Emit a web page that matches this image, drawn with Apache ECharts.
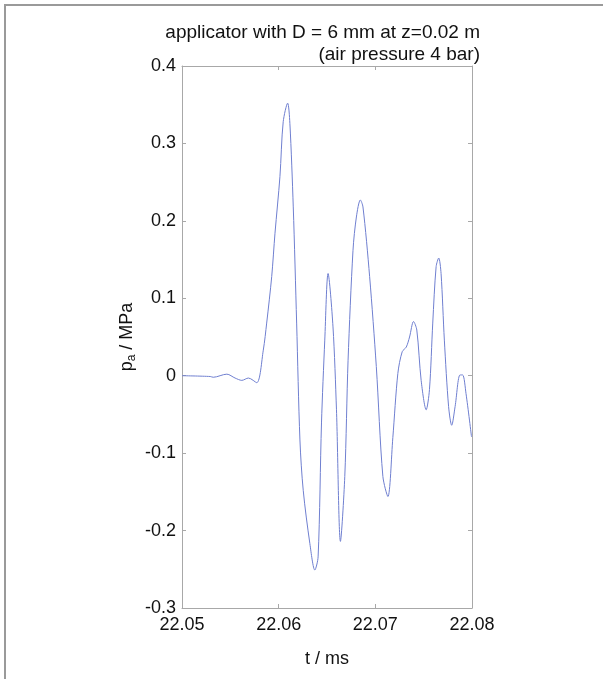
<!DOCTYPE html>
<html lang="en">
<head>
	<meta charset="UTF-8">
	<title>applicator pressure</title>
	<script src="https://cdn.jsdelivr.net/npm/echarts@6/dist/echarts.min.js"></script>
	<style>
		* {
			margin: 0;
			padding: 0;
		}

		html,
		body {
			width: 603px;
			height: 679px;
			background: #fff;
		}

		#frame {
			position: absolute;
			left: 4px;
			top: 4px;
			right: 0;
			bottom: 0;
			border-top: 2px solid #9a9a9a;
			border-left: 2px solid #9a9a9a;
		}

		#main {
			position: absolute;
			left: 0;
			top: 0;
			width: 603px;
			height: 679px;
		}
	</style>
</head>
<body>
	<div id="frame"></div>
	<div id="main"></div>
	<script>
		// time (ms) and pressure (MPa)
		const times = [
			22.0500, 22.05292, 22.05323, 22.05464, 22.05549, 22.05619, 22.05687, 22.05773,
			22.05841, 22.05876, 22.05928, 22.05962, 22.06013, 22.06047, 22.06093, 22.06116,
			22.06151, 22.06186, 22.06220, 22.06254, 22.06323, 22.06374, 22.06408, 22.06443,
			22.06477, 22.06511, 22.06562, 22.06598, 22.06639, 22.06684, 22.06718, 22.06769,
			22.06804, 22.06845, 22.06872, 22.06941, 22.07010, 22.07078, 22.07130, 22.07181,
			22.07233, 22.07278, 22.07320, 22.07354, 22.07395, 22.07429, 22.07474, 22.07526,
			22.07560, 22.07594, 22.07629, 22.07656, 22.07680, 22.07714, 22.07758, 22.07790,
			22.07825, 22.07876, 22.07903, 22.07938, 22.07995
		];
		const pressure = [
			0, -0.001, -0.002, 0.002, -0.003, -0.006, -0.003, -0.009,
			0.033, 0.068, 0.128, 0.184, 0.257, 0.328, 0.352, 0.326,
			0.218, 0.068, -0.083, -0.148, -0.217, -0.251, -0.234, -0.061,
			0.046, 0.132, 0.063, -0.044, -0.214, -0.13, 0.02, 0.162,
			0.205, 0.227, 0.218, 0.128, 0.012, -0.13, -0.156, -0.08,
			0.003, 0.031, 0.037, 0.050, 0.070, 0.059, -0.006, -0.044,
			-0.018, 0.068, 0.141, 0.152, 0.132, 0.046, -0.040, -0.064,
			-0.040, 0.001, 0.001, -0.023, -0.079
		];
		const titleLines = ['applicator with D = 6 mm at z=0.02 m', '(air pressure 4 bar)'];

		const points = times.map((t, i) => [t, pressure[i]]);
		const font = '"Liberation Sans", Arial, sans-serif';
		const gray = '#a8a8a8';

		const chart = echarts.init(document.getElementById('main'));

		// shared axis look; labels only on bottom/left
		const lineStyle = { show: true, onZero: false, lineStyle: { color: gray } };
		const tickStyle = { inside: true, length: 4, lineStyle: { color: gray } };

		const mirrorX = {
			type: 'value',
			position: 'top',
			min: 22.05,
			max: 22.08,
			interval: 0.01,
			axisLine: lineStyle,
			axisTick: tickStyle,
			splitLine: { show: false },
			axisLabel: { show: false }
		};
		const mirrorY = {
			type: 'value',
			position: 'right',
			min: -0.3,
			max: 0.4,
			interval: 0.1,
			axisLine: lineStyle,
			axisTick: tickStyle,
			splitLine: { show: false },
			axisLabel: { show: false }
		};

		const titleStyle = {
			fontFamily: font,
			fontSize: 19,
			fontWeight: 'normal',
			color: '#111'
		};

		const option = {
			animation: false,
			textStyle: { fontFamily: font },
			title: [
				{ text: titleLines[0], right: 118, top: 18, textStyle: titleStyle },
				{ text: titleLines[1], right: 118, top: 40, textStyle: titleStyle }
			],
			grid: {
				left: 182,
				right: 131,
				top: 66,
				bottom: 71
			},
			xAxis: [
				{
					type: 'value',
					position: 'bottom',
					min: 22.05,
					max: 22.08,
					interval: 0.01,
					name: 't / ms',
					nameLocation: 'middle',
					nameGap: 42,
					nameTextStyle: { fontFamily: font, fontSize: 18, color: '#111' },
					axisLine: lineStyle,
					axisTick: tickStyle,
					splitLine: { show: false },
					axisLabel: {
						fontFamily: font,
						fontSize: 18,
						color: '#111',
						margin: 8,
						formatter: v => v.toFixed(2)
					}
				},
				mirrorX
			],
			yAxis: [
				{
					type: 'value',
					position: 'left',
					min: -0.3,
					max: 0.4,
					interval: 0.1,
					name: '{m|p}{s|a}{m| / MPa}',
					nameLocation: 'middle',
					nameGap: 45,
					nameTextStyle: {
						fontFamily: font,
						color: '#111',
						rich: {
							m: { fontFamily: font, fontSize: 18, color: '#111', lineHeight: 20 },
							s: { fontFamily: font, fontSize: 12, color: '#111', lineHeight: 20, padding: [10, 0, 0, 0] }
						}
					},
					axisLine: lineStyle,
					axisTick: tickStyle,
					splitLine: { show: false },
					axisLabel: {
						fontFamily: font,
						fontSize: 18,
						color: '#111',
						margin: 6,
						formatter: v => (Math.abs(v) < 1e-9 ? '0' : String(Math.round(v * 10) / 10))
					}
				},
				mirrorY
			],
			series: [{
				type: 'line',
				data: points,
				showSymbol: false,
				smooth: 0.3,
				clip: true,
				lineStyle: { color: '#6f7fd0', width: 1 }
			}]
		};

		chart.setOption(option);
	</script>
</body>
</html>
